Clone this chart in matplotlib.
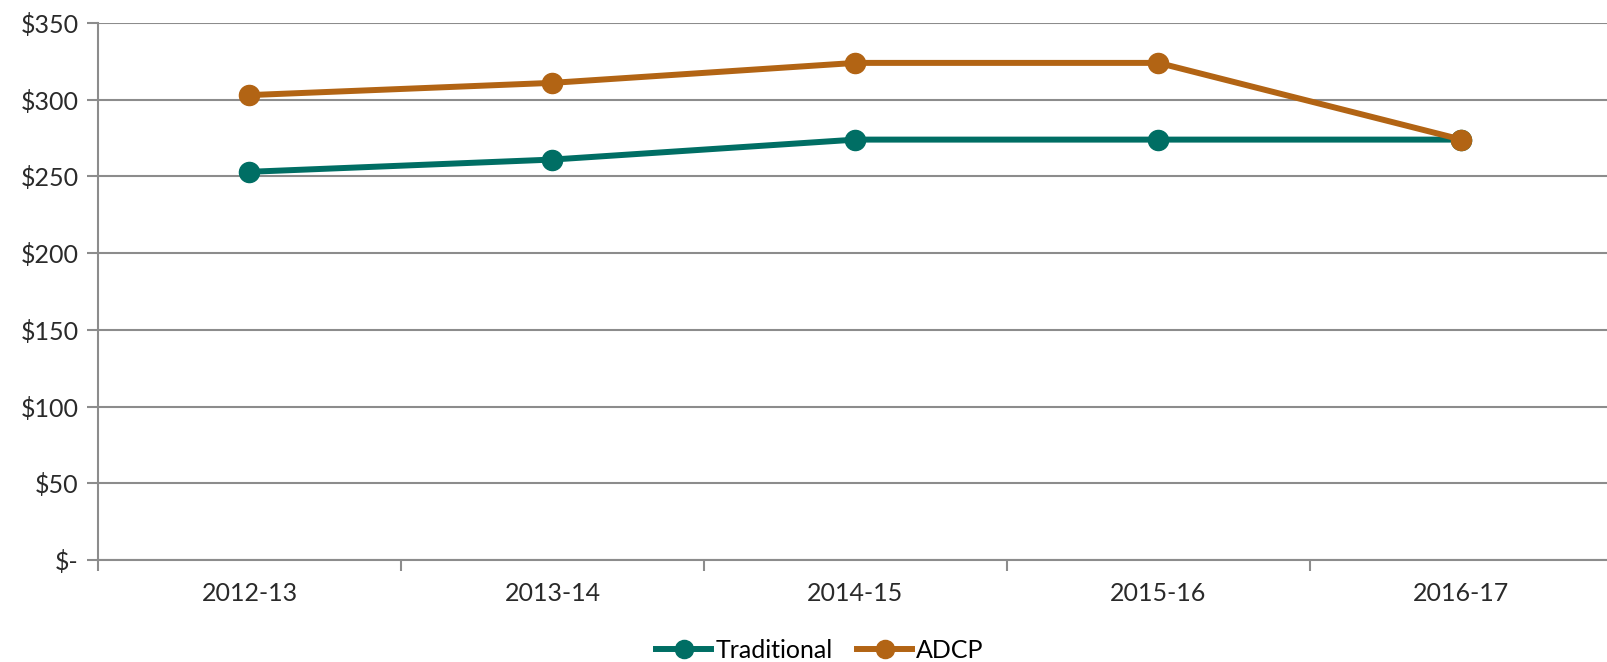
import matplotlib.pyplot as plt
import matplotlib.ticker as ticker
import numpy as np

plt.rcParams['font.family'] = ['Lato', 'DejaVu Sans']

# data
years = ['2012-13', '2013-14', '2014-15', '2015-16', '2016-17']
traditional = [253, 261, 274, 274, 274]
adcp = [303, 311, 324, 324, 274]

teal = '#006e64'
orange = '#b26414'
grey = '#8c8c8c'

fig = plt.figure(figsize=(16.08, 6.62), dpi=100)
ax = fig.add_axes([98/1608, 1 - 560/662, 1515/1608, 537/662])

x = np.arange(len(years))
ax.plot(x, traditional, color=teal, lw=4.3, marker='o', ms=14.5, label='Traditional', zorder=3)
ax.plot(x, adcp, color=orange, lw=4.3, marker='o', ms=14.5, label='ADCP', zorder=4)

ax.set_xlim(-0.5, len(years) - 0.5)
ax.set_ylim(0, 350)
ax.set_yticks(np.arange(0, 351, 50))
ax.yaxis.set_major_formatter(ticker.FuncFormatter(lambda v, p: '$-' if v == 0 else '${:.0f}'.format(v)))
ax.set_xticks(x)
ax.set_xticklabels(years)
ax.set_xticks(np.arange(-0.5, len(years)), minor=True)

ax.grid(axis='y', color=grey, lw=1.5, zorder=0)
ax.set_axisbelow(True)
for s in ['top', 'right']:
    ax.spines[s].set_visible(False)
for s in ['left', 'bottom']:
    ax.spines[s].set_color(grey)
    ax.spines[s].set_linewidth(1.5)

ax.tick_params(axis='y', length=8, width=1.5, color=grey, labelsize=18, pad=6, labelcolor='#2a2a2a')
ax.tick_params(axis='x', which='major', length=0, labelsize=18, pad=16, labelcolor='#2a2a2a')
ax.tick_params(axis='x', which='minor', length=8, width=1.5, color=grey)

fig.legend(loc='center', bbox_to_anchor=(0.51, 1 - 650/662), ncol=2, frameon=False,
           fontsize=18, handlelength=2.2, columnspacing=1.0, handletextpad=0.15, markerscale=0.9)

fig.savefig('out.png', dpi=100)
